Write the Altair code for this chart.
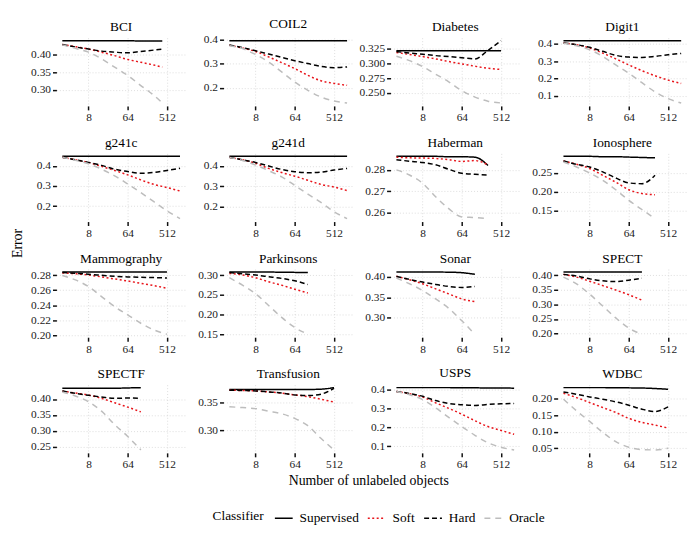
import altair as alt
import pandas as pd

CLASSIFIERS = ["Supervised", "Soft", "Hard", "Oracle"]
COLORS = ["#000000", "#e8141a", "#000000", "#bdbdbd"]
DASHES = [[1, 0], [2, 2.5], [5, 3], [6, 5]]

X_128 = [2, 4, 8, 16, 32, 64, 128]
X_256 = [2, 4, 8, 16, 32, 64, 128, 256]
X_400 = [2, 4, 8, 16, 32, 64, 128, 256, 400]
X_512 = [2, 4, 8, 16, 32, 64, 128, 256, 512]
X_1024 = [2, 4, 8, 16, 32, 64, 128, 256, 512, 1024]
X_TICKS = [8, 64, 512]

# ---- values ----
bci_supervised = [0.441, 0.441, 0.441, 0.441, 0.441, 0.441, 0.440, 0.440, 0.440]
bci_soft = [0.430, 0.424, 0.417, 0.408, 0.398, 0.387, 0.379, 0.371, 0.365]
bci_hard = [0.430, 0.423, 0.417, 0.411, 0.408, 0.406, 0.410, 0.414, 0.417]
bci_oracle = [0.429, 0.419, 0.408, 0.389, 0.365, 0.341, 0.312, 0.284, 0.262]
bci_ticks = ["0.30", "0.35", "0.40"]

coil2_supervised = [0.397, 0.397, 0.397, 0.397, 0.397, 0.397, 0.397, 0.397, 0.397, 0.397]
coil2_soft = [0.378, 0.366, 0.352, 0.329, 0.305, 0.280, 0.252, 0.229, 0.218, 0.210]
coil2_hard = [0.379, 0.368, 0.355, 0.341, 0.327, 0.313, 0.301, 0.289, 0.284, 0.287]
coil2_oracle = [0.376, 0.364, 0.339, 0.308, 0.266, 0.224, 0.189, 0.161, 0.144, 0.136]
coil2_ticks = ["0.2", "0.3", "0.4"]

diabetes_supervised = [0.322, 0.322, 0.322, 0.322, 0.322, 0.322, 0.322, 0.322, 0.322]
diabetes_soft = [0.319, 0.3155, 0.312, 0.308, 0.3035, 0.2995, 0.2955, 0.292, 0.290]
diabetes_hard = [0.3205, 0.318, 0.316, 0.3136, 0.312, 0.310, 0.308, 0.3225, 0.339]
diabetes_oracle = [0.3125, 0.305, 0.295, 0.282, 0.269, 0.254, 0.243, 0.236, 0.233]
diabetes_ticks = ["0.250", "0.275", "0.300", "0.325"]

digit1_supervised = [0.417, 0.417, 0.417, 0.417, 0.417, 0.417, 0.417, 0.417, 0.417, 0.417]
digit1_soft = [0.404, 0.394, 0.375, 0.346, 0.313, 0.278, 0.245, 0.216, 0.191, 0.172]
digit1_hard = [0.404, 0.394, 0.379, 0.356, 0.333, 0.323, 0.321, 0.327, 0.336, 0.344]
digit1_oracle = [0.402, 0.388, 0.365, 0.327, 0.278, 0.230, 0.176, 0.124, 0.085, 0.060]
digit1_ticks = ["0.1", "0.2", "0.3", "0.4"]

g241c_supervised = [0.447, 0.447, 0.447, 0.447, 0.447, 0.447, 0.447, 0.447, 0.447, 0.447]
g241c_soft = [0.442, 0.430, 0.417, 0.397, 0.377, 0.355, 0.330, 0.308, 0.292, 0.275]
g241c_hard = [0.442, 0.430, 0.417, 0.402, 0.383, 0.372, 0.363, 0.367, 0.377, 0.388]
g241c_oracle = [0.442, 0.427, 0.410, 0.383, 0.350, 0.310, 0.267, 0.222, 0.177, 0.138]
g241c_ticks = ["0.2", "0.3", "0.4"]

g241d_supervised = [0.447, 0.447, 0.447, 0.447, 0.447, 0.447, 0.447, 0.447, 0.447, 0.447]
g241d_soft = [0.442, 0.430, 0.413, 0.388, 0.368, 0.350, 0.330, 0.310, 0.297, 0.280]
g241d_hard = [0.442, 0.430, 0.417, 0.400, 0.383, 0.372, 0.367, 0.370, 0.380, 0.388]
g241d_oracle = [0.442, 0.427, 0.405, 0.377, 0.347, 0.305, 0.263, 0.222, 0.177, 0.143]
g241d_ticks = ["0.2", "0.3", "0.4"]

haberman_supervised = [0.2864, 0.2864, 0.2864, 0.2864, 0.2862, 0.2862, 0.2860, 0.2821]
haberman_soft = [0.2860, 0.2857, 0.2856, 0.2854, 0.2848, 0.2840, 0.2844, 0.2824]
haberman_hard = [0.2848, 0.2841, 0.2835, 0.2824, 0.2803, 0.2784, 0.2779, 0.2776]
haberman_oracle = [0.2800, 0.2776, 0.2737, 0.2673, 0.2617, 0.2578, 0.2575, 0.2570]
haberman_ticks = ["0.26", "0.27", "0.28"]

ionosphere_supervised = [0.293, 0.293, 0.293, 0.292, 0.292, 0.291, 0.290, 0.289]
ionosphere_soft = [0.281, 0.272, 0.261, 0.243, 0.225, 0.205, 0.195, 0.192]
ionosphere_hard = [0.281, 0.272, 0.265, 0.252, 0.236, 0.223, 0.221, 0.243]
ionosphere_oracle = [0.278, 0.265, 0.249, 0.230, 0.205, 0.177, 0.153, 0.129]
ionosphere_ticks = ["0.15", "0.20", "0.25"]

mammography_supervised = [0.2844, 0.2844, 0.2844, 0.2844, 0.2844, 0.2844, 0.2844, 0.2844, 0.2844]
mammography_soft = [0.2831, 0.2820, 0.2804, 0.2778, 0.2751, 0.2724, 0.2693, 0.2662, 0.2627]
mammography_hard = [0.2836, 0.2827, 0.2813, 0.2800, 0.2787, 0.2778, 0.2773, 0.2769, 0.2764]
mammography_oracle = [0.2796, 0.2738, 0.2649, 0.2516, 0.2382, 0.2271, 0.2160, 0.2071, 0.2013]
mammography_ticks = ["0.20", "0.22", "0.24", "0.26", "0.28"]

parkinsons_supervised = [0.3086, 0.3086, 0.3085, 0.3084, 0.3080, 0.3076, 0.3070]
parkinsons_soft = [0.3050, 0.3010, 0.2940, 0.2836, 0.2750, 0.2647, 0.2552]
parkinsons_hard = [0.3070, 0.3043, 0.3009, 0.2966, 0.2922, 0.2862, 0.2767]
parkinsons_oracle = [0.2940, 0.2750, 0.2534, 0.2233, 0.1930, 0.1673, 0.1500]
parkinsons_ticks = ["0.15", "0.20", "0.25", "0.30"]

sonar_supervised = [0.4125, 0.4125, 0.4125, 0.4123, 0.4120, 0.4108, 0.4067]
sonar_soft = [0.4017, 0.3933, 0.3833, 0.3708, 0.3583, 0.3458, 0.3392]
sonar_hard = [0.4017, 0.3940, 0.3875, 0.3817, 0.3767, 0.3742, 0.3767]
sonar_oracle = [0.3975, 0.3833, 0.3667, 0.3458, 0.3225, 0.2917, 0.2583]
sonar_ticks = ["0.25", "0.30", "0.35", "0.40"]

spect_supervised = [0.4105, 0.4105, 0.4105, 0.4105, 0.4105, 0.4105, 0.4105]
spect_soft = [0.4023, 0.3930, 0.3790, 0.3640, 0.3488, 0.3326, 0.3140]
spect_hard = [0.4023, 0.3965, 0.3872, 0.3802, 0.3779, 0.3826, 0.3895]
spect_oracle = [0.3930, 0.3698, 0.3349, 0.2942, 0.2535, 0.2186, 0.1977]
spect_ticks = ["0.20", "0.25", "0.30", "0.35", "0.40"]

spectf_supervised = [0.434, 0.434, 0.434, 0.434, 0.434, 0.435, 0.436]
spectf_soft = [0.4245, 0.4190, 0.4128, 0.4021, 0.3883, 0.3745, 0.3596]
spectf_hard = [0.4255, 0.4180, 0.4117, 0.4064, 0.4021, 0.4032, 0.4021]
spectf_oracle = [0.4223, 0.4096, 0.3915, 0.3617, 0.3191, 0.2820, 0.2394]
spectf_ticks = ["0.25", "0.30", "0.35", "0.40"]

transfusion_supervised = [0.3735, 0.3735, 0.3735, 0.3735, 0.3735, 0.3735, 0.3735, 0.3740, 0.3768]
transfusion_soft = [0.3722, 0.3716, 0.3709, 0.3690, 0.3670, 0.3637, 0.3605, 0.3559, 0.3507]
transfusion_hard = [0.3722, 0.3716, 0.3709, 0.3690, 0.3670, 0.3637, 0.3624, 0.3650, 0.3755]
transfusion_oracle = [0.3422, 0.3408, 0.3389, 0.3343, 0.3297, 0.3212, 0.3081, 0.2853, 0.2644]
transfusion_ticks = ["0.25", "0.30", "0.35"]

usps_supervised = [0.410, 0.410, 0.410, 0.410, 0.410, 0.409, 0.409, 0.408, 0.408, 0.407]
usps_soft = [0.3897, 0.3780, 0.3606, 0.3297, 0.3006, 0.2697, 0.2354, 0.2046, 0.1840, 0.1634]
usps_hard = [0.3897, 0.3794, 0.3640, 0.3417, 0.3263, 0.3194, 0.3160, 0.3211, 0.3246, 0.3263]
usps_oracle = [0.3897, 0.3726, 0.3469, 0.3040, 0.2526, 0.2046, 0.1583, 0.1189, 0.0949, 0.0811]
usps_ticks = ["0.1", "0.2", "0.3", "0.4"]

wdbc_supervised = [0.2342, 0.2342, 0.2342, 0.2342, 0.2340, 0.2335, 0.2330, 0.2315, 0.2292]
wdbc_soft = [0.2171, 0.2040, 0.1889, 0.1738, 0.1588, 0.1407, 0.1286, 0.1205, 0.1115]
wdbc_hard = [0.2211, 0.2141, 0.2060, 0.1990, 0.1910, 0.1809, 0.1688, 0.1618, 0.1759]
wdbc_oracle = [0.1990, 0.1638, 0.1316, 0.0984, 0.0702, 0.0531, 0.0461, 0.0451, 0.0500]
wdbc_ticks = ["0.05", "0.10", "0.15", "0.20"]

PANELS = [
    ("BCI", X_400, [bci_supervised, bci_soft, bci_hard, bci_oracle], bci_ticks),
    ("COIL2", X_1024, [coil2_supervised, coil2_soft, coil2_hard, coil2_oracle], coil2_ticks),
    ("Diabetes", X_512, [diabetes_supervised, diabetes_soft, diabetes_hard, diabetes_oracle], diabetes_ticks),
    ("Digit1", X_1024, [digit1_supervised, digit1_soft, digit1_hard, digit1_oracle], digit1_ticks),
    ("g241c", X_1024, [g241c_supervised, g241c_soft, g241c_hard, g241c_oracle], g241c_ticks),
    ("g241d", X_1024, [g241d_supervised, g241d_soft, g241d_hard, g241d_oracle], g241d_ticks),
    ("Haberman", X_256, [haberman_supervised, haberman_soft, haberman_hard, haberman_oracle], haberman_ticks),
    ("Ionosphere", X_256, [ionosphere_supervised, ionosphere_soft, ionosphere_hard, ionosphere_oracle], ionosphere_ticks),
    ("Mammography", X_512, [mammography_supervised, mammography_soft, mammography_hard, mammography_oracle], mammography_ticks),
    ("Parkinsons", X_128, [parkinsons_supervised, parkinsons_soft, parkinsons_hard, parkinsons_oracle], parkinsons_ticks),
    ("Sonar", X_128, [sonar_supervised, sonar_soft, sonar_hard, sonar_oracle], sonar_ticks),
    ("SPECT", X_128, [spect_supervised, spect_soft, spect_hard, spect_oracle], spect_ticks),
    ("SPECTF", X_128, [spectf_supervised, spectf_soft, spectf_hard, spectf_oracle], spectf_ticks),
    ("Transfusion", X_512, [transfusion_supervised, transfusion_soft, transfusion_hard, transfusion_oracle], transfusion_ticks),
    ("USPS", X_1024, [usps_supervised, usps_soft, usps_hard, usps_oracle], usps_ticks),
    ("WDBC", X_512, [wdbc_supervised, wdbc_soft, wdbc_hard, wdbc_oracle], wdbc_ticks),
]

FONT = "Liberation Serif"
X_DOMAIN = [2 ** 0.55, 2 ** 10.45]

legend = alt.Legend(
    title="Classifier", orient="none", legendX=158, legendY=476,
    direction="horizontal", titleOrient="left",
    labelFont=FONT, titleFont=FONT, labelFontSize=13.5, titleFontSize=13.5,
    titleFontWeight=400, labelColor="#000000", titleColor="#000000",
)


def panel(name, xs, series, ticks):
    rows = []
    for cls, vals in zip(CLASSIFIERS, series):
        for i, (x, v) in enumerate(zip(xs, vals)):
            rows.append({"Unlabeled": x, "Error": v, "Classifier": cls, "i": i})
    df = pd.DataFrame(rows)
    decimals = len(ticks[0].split(".")[1])
    return (
        alt.Chart(df)
        .mark_line(interpolate="monotone", strokeWidth=1.5)
        .encode(
            x=alt.X("Unlabeled:Q", title=None,
                    scale=alt.Scale(type="log", base=2, domain=X_DOMAIN, nice=False),
                    axis=alt.Axis(values=X_TICKS, format="d", labelFont=FONT)),
            y=alt.Y("Error:Q", title=None,
                    scale=alt.Scale(zero=False, nice=False, padding=3),
                    axis=alt.Axis(values=[float(t) for t in ticks], format=f".{decimals}f", labelFont=FONT)),
            color=alt.Color("Classifier:N", scale=alt.Scale(domain=CLASSIFIERS, range=COLORS), legend=legend),
            strokeDash=alt.StrokeDash("Classifier:N", scale=alt.Scale(domain=CLASSIFIERS, range=DASHES), legend=legend),
            order="i:Q",
        )
        .properties(width=131, height=69,
                    title=alt.TitleParams(name, font=FONT, fontSize=13.5, fontWeight=400, offset=4,
                                          color="#000000", style="paneltitle"))
    )


cells = [panel(*p) for p in PANELS]

grid = alt.concat(*cells, columns=4, spacing={"row": 48, "column": 38}, bounds="flush").properties(
    title=alt.TitleParams("Error", orient="left", anchor="middle", font=FONT, fontSize=14,
                          fontWeight=400, offset=6)
)
mid = alt.vconcat(grid).properties(
    title=alt.TitleParams("Number of unlabeled objects", orient="bottom", anchor="middle", font=FONT,
                          fontSize=14, fontWeight=400, offset=4, dx=20)
)
chart = (
    alt.vconcat(mid)
    .properties(padding={"left": 2, "top": 5, "right": 5, "bottom": 5})
    .configure(style={
        "paneltitle": {"font": FONT, "fontWeight": 400, "fontSize": 13.5},
        "group-title": {"font": FONT, "fontWeight": 400},
        "guide-label": {"font": FONT},
        "guide-title": {"font": FONT, "fontWeight": 400},
    })
    .configure_view(strokeWidth=0)
    .configure_title(font=FONT, fontWeight=400, color="#000000")
    .configure_axis(
        labelFont=FONT, labelFontSize=11.5, labelColor="#1a1a1a",
        tickColor="#111111", tickWidth=1.5, tickSize=4,
        domain=False, grid=True, gridColor="#cfcfcf", gridDash=[1, 2], gridWidth=0.7,
        labelPadding=2,
    )
    .configure_legend(
        labelFont=FONT, labelFontSize=13.5, titleFont=FONT, titleFontSize=13.5,
        titleFontWeight=400, symbolType="stroke", symbolStrokeWidth=1.5, symbolSize=324,
        columnPadding=6, labelOffset=6, titlePadding=10,
    )
)

chart.save("out.html", embed_options={"renderer": "svg", "actions": False})
